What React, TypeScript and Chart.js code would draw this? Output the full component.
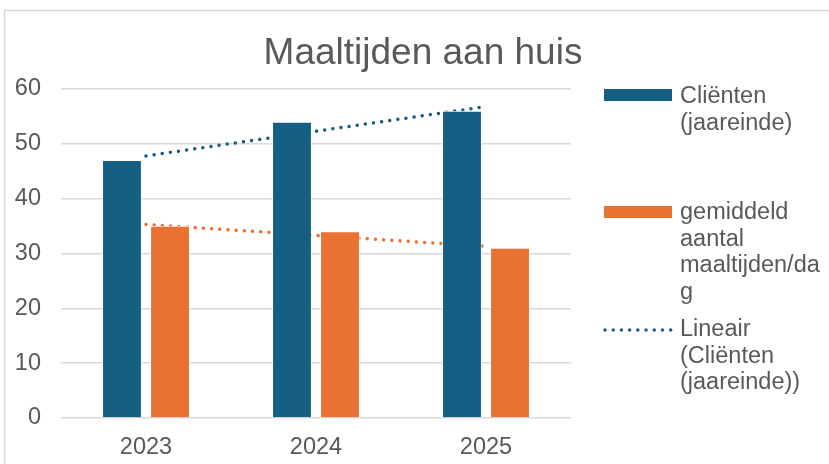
import React, { useEffect, useRef } from "react";
import { Chart, registerables } from "chart.js";

Chart.register(...registerables);

const categories = ["2023", "2024", "2025"];
const clients = [47, 54, 56];
const mealsPerDay = [35, 34, 31];
const clientsTrend = [47.8, 52.3, 56.8];
const mealsTrend = [35.3, 33.3, 31.3];
const yTicks = [0, 10, 20, 30, 40, 50, 60];

const titleText = "Maaltijden aan huis";
const legendClients = ["Cliënten", "(jaareinde)"];
const legendMeals = ["gemiddeld", "aantal", "maaltijden/da", "g"];
const legendTrend = ["Lineair", "(Cliënten", "(jaareinde))"];

const BLUE = "#156082";
const ORANGE = "#E97132";
const TEXT = "#595959";
const GRID = "#d9d9d9";
const FONT = "'Liberation Sans', Arial, sans-serif";

const decorPlugin = {
  id: "decor",
  afterDraw(chart: any) {
    const ctx = chart.ctx as CanvasRenderingContext2D;
    ctx.save();
    // outer border
    ctx.strokeStyle = GRID;
    ctx.lineWidth = 1.5;
    ctx.strokeRect(4.5, 10.5, 1000, 1000);
    // title
    ctx.fillStyle = TEXT;
    ctx.font = `37px ${FONT}`;
    ctx.textAlign = "center";
    ctx.textBaseline = "middle";
    ctx.fillText(titleText, 423, 54);
    // legend
    const tx = 680;
    const lh = 26.5;
    ctx.font = `23.5px ${FONT}`;
    ctx.textAlign = "left";
    ctx.fillStyle = BLUE;
    ctx.fillRect(604, 89, 68, 12);
    ctx.fillStyle = TEXT;
    legendClients.forEach((t, i) => ctx.fillText(t, tx, 97 + i * lh));
    ctx.fillStyle = ORANGE;
    ctx.fillRect(604, 206, 68, 12);
    ctx.fillStyle = TEXT;
    legendMeals.forEach((t, i) => ctx.fillText(t, tx, 213 + i * lh));
    ctx.strokeStyle = BLUE;
    ctx.lineWidth = 3.5;
    ctx.lineCap = "round";
    ctx.setLineDash([0.01, 8.2]);
    ctx.beginPath();
    ctx.moveTo(605, 330);
    ctx.lineTo(672, 330);
    ctx.stroke();
    ctx.setLineDash([]);
    ctx.fillStyle = TEXT;
    legendTrend.forEach((t, i) => ctx.fillText(t, tx, 330 + i * lh));
    ctx.restore();
  },
};

export default function App() {
  const ref = useRef<HTMLCanvasElement | null>(null);
  useEffect(() => {
    if (!ref.current) return;
    const chart = new Chart(ref.current, {
      type: "bar",
      data: {
        labels: categories,
        datasets: [
          {
            type: "bar",
            label: "Cliënten (jaareinde)",
            data: clients,
            backgroundColor: BLUE,
            borderColor: "#ffffff",
            borderWidth: 0.75,
            order: 1,
            categoryPercentage: 0.565,
            barPercentage: 0.82,
          } as any,
          {
            type: "bar",
            label: "gemiddeld aantal maaltijden/dag",
            data: mealsPerDay,
            backgroundColor: ORANGE,
            borderColor: "#ffffff",
            borderWidth: 0.75,
            order: 1,
            categoryPercentage: 0.565,
            barPercentage: 0.82,
          } as any,
          {
            type: "line",
            label: "Lineair (Cliënten (jaareinde))",
            data: clientsTrend,
            borderColor: BLUE,
            borderWidth: 3.5,
            borderDash: [0.01, 8.2],
            borderCapStyle: "round",
            pointRadius: 0,
            fill: false,
            tension: 0,
            order: 2,
          } as any,
          {
            type: "line",
            label: "Lineair (gemiddeld aantal maaltijden/dag)",
            data: mealsTrend,
            borderColor: ORANGE,
            borderWidth: 3.5,
            borderDash: [0.01, 8.2],
            borderCapStyle: "round",
            pointRadius: 0,
            fill: false,
            tension: 0,
            order: 2,
          } as any,
        ],
      },
      options: {
        responsive: false,
        animation: false,
        layout: { padding: { top: 89, right: 258, left: 0, bottom: 0 } },
        plugins: {
          legend: { display: false },
          title: { display: false },
          tooltip: { enabled: false },
        },
        scales: {
          x: {
            grid: { display: false },
            border: { display: false },
            ticks: {
              color: TEXT,
              font: { size: 23.5, family: FONT },
              padding: 7,
            },
            afterFit: (s: any) => {
              s.height = 46;
            },
          },
          y: {
            min: yTicks[0],
            max: yTicks[yTicks.length - 1],
            afterBuildTicks: (s: any) => {
              s.ticks = yTicks.map((v) => ({ value: v }));
            },
            grid: { color: GRID, lineWidth: 1.5, drawTicks: false },
            border: { display: false },
            ticks: {
              color: TEXT,
              font: { size: 23.5, family: FONT },
              padding: 20,
            },
            afterFit: (s: any) => {
              s.width = 61;
            },
          },
        },
      },
      plugins: [decorPlugin],
    });
    return () => chart.destroy();
  }, []);
  return (
    <div style={{ position: "absolute", left: 0, top: 0, width: 829, height: 464, background: "#fff" }}>
      <canvas ref={ref} width={829} height={464} style={{ display: "block" }} />
    </div>
  );
}
